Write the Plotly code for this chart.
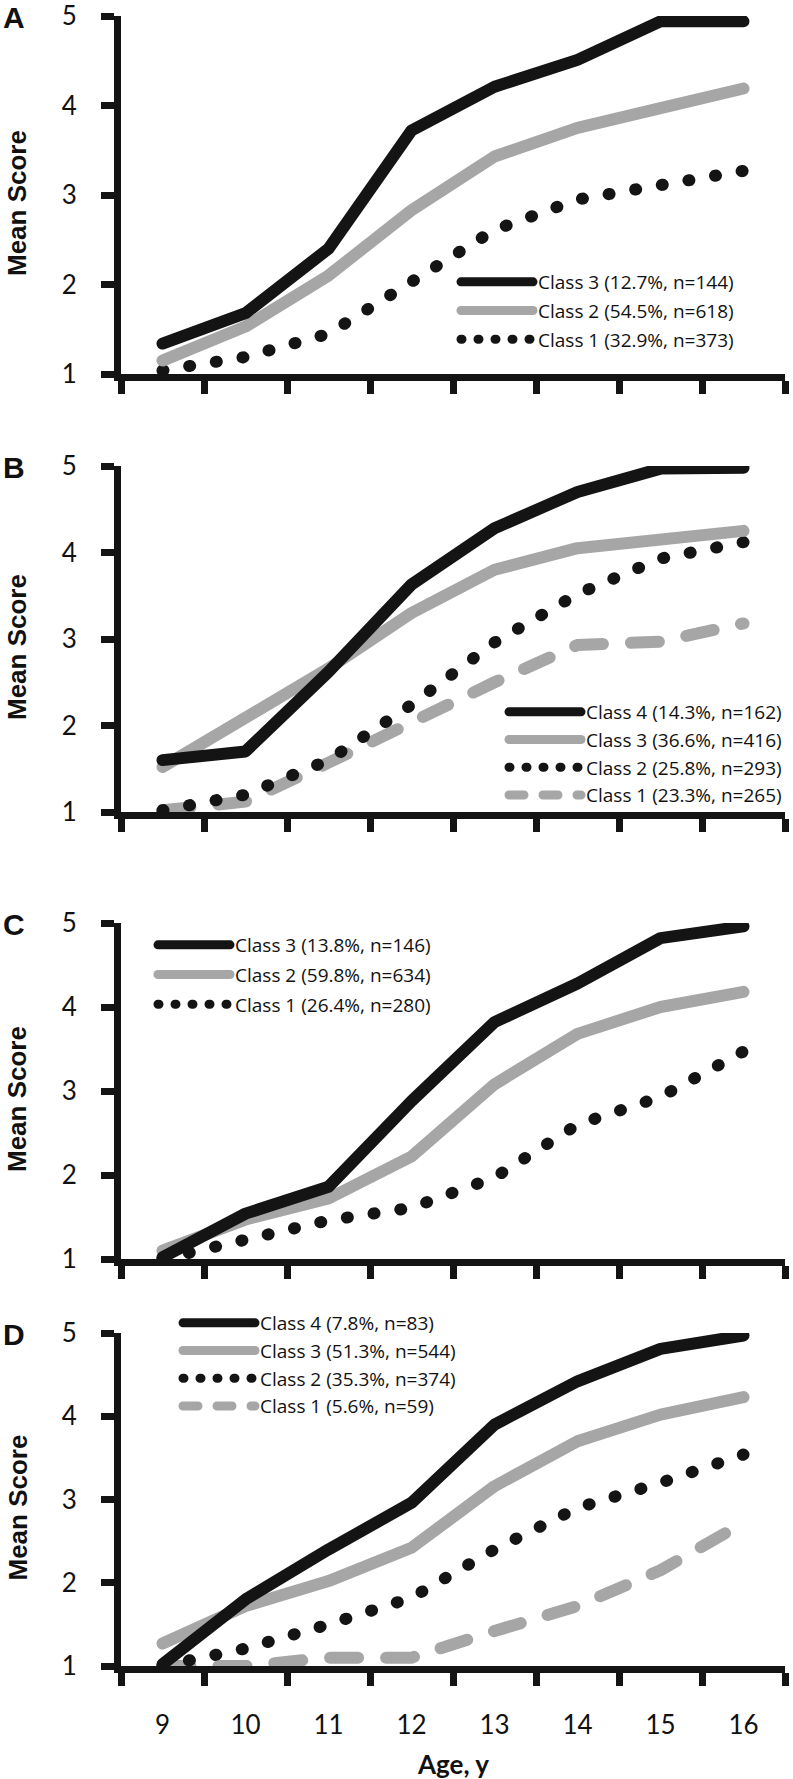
import plotly.graph_objects as go

# ---------------- data ----------------
ages = ["9", "10", "11", "12", "13", "14", "15", "16"]

# Panel A
a_names = ["Class 1 (32.9%, n=373)", "Class 2 (54.5%, n=618)", "Class 3 (12.7%, n=144)"]
a_class1 = [1.04, 1.19, 1.45, 2.04, 2.61, 2.95, 3.11, 3.27]
a_class2 = [1.15, 1.53, 2.10, 2.83, 3.43, 3.75, 3.97, 4.19]
a_class3 = [1.34, 1.68, 2.40, 3.72, 4.21, 4.51, 4.94, 4.94]

# Panel B
b_names = ["Class 1 (23.3%, n=265)", "Class 2 (25.8%, n=293)",
           "Class 3 (36.6%, n=416)", "Class 4 (14.3%, n=162)"]
b_class1 = [1.02, 1.12, 1.57, 2.05, 2.50, 2.93, 2.97, 3.18]
b_class2 = [1.02, 1.20, 1.60, 2.24, 2.96, 3.52, 3.93, 4.12]
b_class3 = [1.52, 2.07, 2.66, 3.30, 3.80, 4.05, 4.15, 4.25]
b_class4 = [1.60, 1.70, 2.62, 3.63, 4.28, 4.70, 4.97, 4.98]

# Panel C
c_names = ["Class 1 (26.4%, n=280)", "Class 2 (59.8%, n=634)", "Class 3 (13.8%, n=146)"]
c_class1 = [1.00, 1.22, 1.46, 1.61, 1.97, 2.60, 2.93, 3.47]
c_class2 = [1.10, 1.47, 1.72, 2.22, 3.08, 3.68, 4.00, 4.18]
c_class3 = [1.02, 1.54, 1.86, 2.88, 3.82, 4.28, 4.82, 4.96]

# Panel D
d_names = ["Class 1 (5.6%, n=59)", "Class 2 (35.3%, n=374)",
           "Class 3 (51.3%, n=544)", "Class 4 (7.8%, n=83)"]
d_class1 = [1.00, 1.00, 1.10, 1.10, 1.42, 1.72, 2.15, 2.72]
d_class2 = [1.00, 1.21, 1.50, 1.82, 2.40, 2.90, 3.20, 3.54]
d_class3 = [1.27, 1.72, 2.02, 2.42, 3.16, 3.70, 4.02, 4.23]
d_class4 = [1.02, 1.80, 2.40, 2.96, 3.90, 4.42, 4.81, 4.97]

y_ticks = [1, 2, 3, 4, 5]
panel_letters = ["A", "B", "C", "D"]

# ---------------- styles ----------------
BLACK = "#141414"
GRAY = "#a6a6a6"
TXT = "#111111"
LINE_W = 12
LEG_W = 9
# (color, plot width, plot dash, legend width, legend dash)
STYLES = {
    "black": (BLACK, LINE_W, "solid", LEG_W, "solid"),
    "gray": (GRAY, LINE_W, "solid", LEG_W, "solid"),
    "dot": (BLACK, LINE_W, "1px,26px", LEG_W, "1px,16px"),
    "dash": (GRAY, LINE_W, "28px,28px", LEG_W, "15px,19px"),
}

panels = [
    list(zip(a_names, [a_class1, a_class2, a_class3], ["dot", "gray", "black"])),
    list(zip(b_names, [b_class1, b_class2, b_class3, b_class4], ["dash", "dot", "gray", "black"])),
    list(zip(c_names, [c_class1, c_class2, c_class3], ["dot", "gray", "black"])),
    list(zip(d_names, [d_class1, d_class2, d_class3, d_class4], ["dash", "dot", "gray", "black"])),
]

# ---------------- layout geometry (pixels) ----------------
W, H = 793, 1779
X0, X1 = 121, 785
AX_LW = 7
# pixel y of value 5 and value 1 for each panel
PANEL_PX = [(16, 374), (466, 812), (923, 1259), (1333, 1666)]
# legend: (left px, top px, group gap, font size)
LEGEND_PX = [(456, 263, 1, 19), (504, 693, 0, 19), (153, 926, 2, 19), (178, 1304, 0, 19)]
TICK_FONT = dict(family="Lato, Carlito, sans-serif", size=26, color=TXT)
LEG_FONT = "Open Sans, Lato, sans-serif"

fig = go.Figure()
layout = dict(
    template="none",
    width=W, height=H, autosize=False,
    margin=dict(l=0, r=0, t=0, b=0, pad=0),
    paper_bgcolor="white", plot_bgcolor="white",
    showlegend=True,
    annotations=[],
)

for i, traces in enumerate(panels):
    n = "" if i == 0 else str(i + 1)
    xa, ya = "x" + n, "y" + n
    leg = "legend" + n
    k = len(traces)
    for j, (name, vals, st) in enumerate(traces):
        color, pw, pdash, lw, ldash = STYLES[st]
        # the data line
        fig.add_trace(go.Scatter(
            x=ages, y=vals, mode="lines", name=name, showlegend=False,
            xaxis=xa, yaxis=ya,
            line=dict(color=color, width=pw, dash=pdash),
            cliponaxis=False, hoverinfo="skip",
        ))
        # legend key only (no data drawn); highest class listed first
        fig.add_trace(go.Scatter(
            x=[None], y=[None], mode="lines", name=name, showlegend=True,
            xaxis=xa, yaxis=ya, legend=leg, legendgroup="%s_%d" % (leg, j),
            legendrank=k - j,
            line=dict(color=color, width=lw, dash=ldash), hoverinfo="skip",
        ))
    y5, y1 = PANEL_PX[i]
    dom = [1 - y1 / H, 1 - y5 / H]
    last = i == 3
    layout["xaxis" + n] = dict(
        domain=[X0 / W, X1 / W], anchor=ya, type="category",
        range=[-0.5, len(ages) - 0.5], automargin=False,
        tickson="boundaries", ticks="outside", ticklen=13, tickwidth=AX_LW,
        tickcolor=BLACK, showline=True, linewidth=AX_LW, linecolor=BLACK,
        showgrid=False, zeroline=False, showticklabels=last,
        tickfont=TICK_FONT, ticklabelstandoff=30, ticklabeloverflow="allow",
        fixedrange=True,
    )
    layout["yaxis" + n] = dict(
        domain=dom, anchor=xa, range=[1, 5], tickvals=y_ticks, automargin=False,
        ticks="outside", ticklen=13, tickwidth=AX_LW, tickcolor=BLACK,
        showline=True, linewidth=AX_LW, linecolor=BLACK,
        showgrid=False, zeroline=False,
        tickfont=TICK_FONT, ticklabelstandoff=19, ticklabeloverflow="allow",
        fixedrange=True,
    )
    lx, ly, gap, fs = LEGEND_PX[i]
    layout[leg] = dict(
        x=lx / W, y=1 - ly / H, xanchor="left", yanchor="top",
        traceorder="grouped", bgcolor="rgba(0,0,0,0)", borderwidth=0,
        font=dict(family=LEG_FONT, size=fs, color=TXT),
        itemwidth=72, tracegroupgap=gap, itemclick=False, itemdoubleclick=False,
    )
    # panel letter
    layout["annotations"].append(dict(
        text="<b>%s</b>" % panel_letters[i], x=14 / W, y=1 - (y5 + 1) / H,
        xref="paper", yref="paper", showarrow=False, xanchor="center", yanchor="middle",
        font=dict(family="Liberation Sans, Arial, sans-serif", size=30, color=TXT),
    ))
    # y-axis title
    layout["annotations"].append(dict(
        text="<b>Mean Score</b>", x=17 / W, y=1 - ((y5 + y1) / 2 + 8) / H,
        xref="paper", yref="paper", showarrow=False, textangle=-90,
        xanchor="center", yanchor="middle",
        font=dict(family="Liberation Sans, Arial, sans-serif", size=26, color=TXT),
    ))

layout["annotations"].append(dict(
    text="<b>Age, y</b>", x=((X0 + X1) / 2) / W, y=1 - 1764 / H,
    xref="paper", yref="paper", showarrow=False, xanchor="center", yanchor="middle",
    font=dict(family="Lato, Carlito, sans-serif", size=26, color=TXT),
))

fig.update_layout(**layout)

post = """
document.body.style.margin = '0';
document.body.style.overflow = 'hidden';
var s = document.createElement('style');
s.innerHTML = '.scatterlayer .js-line, .legendlines path {stroke-linecap: round !important; stroke-linejoin: round !important;}';
document.head.appendChild(s);
"""
fig.write_html("out.html", config={"staticPlot": True}, post_script=post)
